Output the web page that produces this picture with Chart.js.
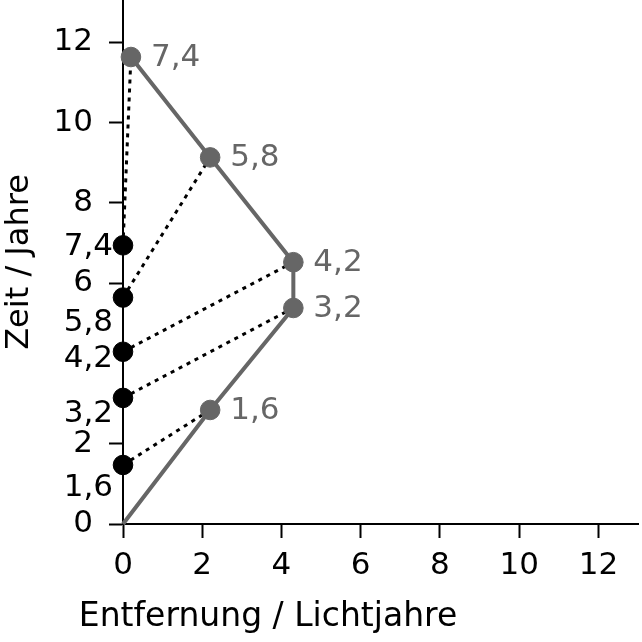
<!DOCTYPE html>
<html>
<head>
<meta charset="utf-8">
<script src="https://cdn.jsdelivr.net/npm/chart.js@4/dist/chart.umd.min.js"></script>
<style>
html,body{margin:0;padding:0;background:#fff;}
#wrap{width:642px;height:642px;position:relative;}
</style>
</head>
<body>
<div id="wrap"><canvas id="c" width="642" height="642"></canvas></div>
<script>
// ---- data ----
const shipX = [0, 2.2, 4.3, 4.3, 2.2, 0.2];
const shipT = [0, 2.84, 5.38, 6.52, 9.13, 11.63];
const shipLabels = ['', '1,6', '3,2', '4,2', '5,8', '7,4'];
const earthT = [1.47, 3.14, 4.29, 5.64, 6.94];
const earthLabels = ['1,6', '3,2', '4,2', '5,8', '7,4'];
const earthLabelT = [0.92, 2.77, 4.14, 5.04, 6.93];
const xTicks = [0, 2, 4, 6, 8, 10, 12];
const yTicks = [0, 2, 6, 8, 10, 12];
const xTitle = 'Entfernung / Lichtjahre';
const yTitle = 'Zeit / Jahre';

const GREY = '#666666';
const FONT = '"DejaVu Sans", sans-serif';

const shipPts = shipX.map((x, i) => ({x: x, y: shipT[i]}));
const earthPts = earthT.map(t => ({x: 0, y: t}));

const datasets = [];
datasets.push({
  label: 'earth', data: earthPts, showLine: false,
  pointRadius: 9.8, pointBorderWidth: 1, pointBackgroundColor: '#000', pointBorderColor: '#000',
  clip: false, order: 0
});
datasets.push({
  label: 'ship', data: shipPts, showLine: true,
  borderColor: GREY, borderWidth: 4,
  pointRadius: ctx => (shipLabels[ctx.dataIndex] ? 9.8 : 0), pointBorderWidth: 1,
  pointBackgroundColor: GREY, pointBorderColor: GREY, clip: false, order: 1
});
earthPts.forEach((p, i) => {
  datasets.push({
    label: 'ray' + i, data: [p, shipPts[i + 1]], showLine: true,
    borderColor: '#000', borderWidth: 3, borderDash: [4, 5], pointRadius: 0,
    clip: false, order: 2
  });
});

const labelPlugin = {
  id: 'labels',
  afterDatasetsDraw(chart) {
    const ctx = chart.ctx;
    const xs = chart.scales.x, ys = chart.scales.y;
    ctx.save();
    ctx.font = '31px ' + FONT;
    ctx.textBaseline = 'middle';
    ctx.fillStyle = GREY;
    ctx.textAlign = 'left';
    shipPts.forEach((p, i) => {
      if (!shipLabels[i]) return;
      ctx.fillText(shipLabels[i], xs.getPixelForValue(p.x) + 20, ys.getPixelForValue(p.y) + 1);
    });
    ctx.fillStyle = '#000';
    ctx.textAlign = 'right';
    earthLabels.forEach((l, i) => {
      ctx.fillText(l, xs.getPixelForValue(0) - 10, ys.getPixelForValue(earthLabelT[i]) + 1);
    });
    // x axis title
    ctx.font = '33px ' + FONT;
    ctx.textAlign = 'center';
    ctx.textBaseline = 'alphabetic';
    ctx.fillText(xTitle, xs.getPixelForValue(3.66), 626);
    ctx.restore();
  }
};

new Chart(document.getElementById('c'), {
  type: 'scatter',
  data: {datasets: datasets},
  options: {
    responsive: false,
    animation: false,
    events: [],
    layout: {autoPadding: false, padding: {top: 0, right: 4, left: 0, bottom: 0}},
    plugins: {legend: {display: false}, tooltip: {enabled: false}},
    scales: {
      x: {
        type: 'linear', min: 0, max: 13,
        afterBuildTicks: s => { s.ticks = xTicks.map(v => ({value: v})); },
        afterFit: s => { s.height = 118; s.paddingLeft = 0; s.paddingRight = 0; },
        grid: {display: true, drawOnChartArea: false, drawTicks: true, tickLength: 14, tickWidth: 2, tickColor: '#000'},
        border: {display: true, color: '#000', width: 2},
        ticks: {color: '#000', font: {family: FONT, size: 31}, padding: 9, maxRotation: 0, autoSkip: false}
      },
      y: {
        type: 'linear', min: 0, max: 13.05,
        afterBuildTicks: s => { s.ticks = yTicks.map(v => ({value: v})); },
        afterFit: s => { s.width = 123; s.paddingTop = 0; s.paddingBottom = 0; },
        grid: {display: true, drawOnChartArea: false, drawTicks: true, tickLength: 14, tickWidth: 2, tickColor: '#000'},
        border: {display: true, color: '#000', width: 2},
        ticks: {color: '#000', font: {family: FONT, size: 31}, padding: 16, autoSkip: false},
        title: {display: true, text: yTitle, color: '#000', font: {family: FONT, size: 32}, padding: {top: 0, bottom: 0}}
      }
    }
  },
  plugins: [labelPlugin]
});
</script>
</body>
</html>
